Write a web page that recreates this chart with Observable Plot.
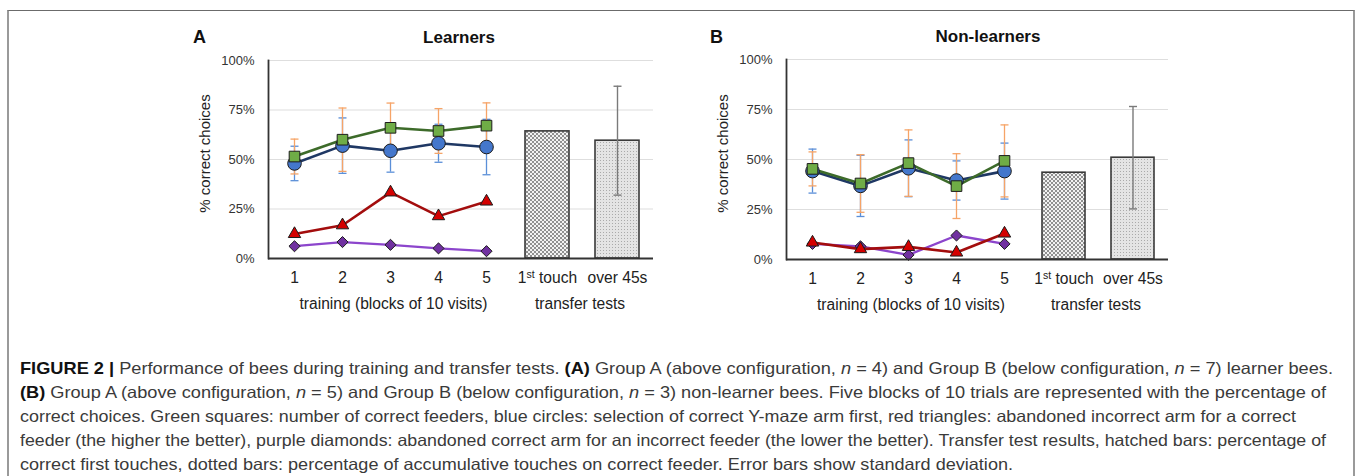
<!DOCTYPE html>
<html><head><meta charset="utf-8">
<script src="https://cdn.jsdelivr.net/npm/d3@7"></script>
<script src="https://cdn.jsdelivr.net/npm/@observablehq/plot@0.6"></script>
<style>
html,body{margin:0;padding:0;background:#fff;}
#fig{position:relative;width:1357px;height:476px;overflow:hidden;font-family:"Liberation Sans",Arial,sans-serif;color:#222;}
#frame{position:absolute;left:7px;top:10px;width:1344px;height:520px;border-top:1.5px solid #6b6b6b;border-left:2px solid #9a9a9a;border-right:2px solid #9a9a9a;}
.plabel{position:absolute;font-weight:bold;font-size:18px;line-height:1;color:#111;}
.ptitle{position:absolute;font-weight:bold;font-size:17px;line-height:1;white-space:nowrap;transform:translateX(-50%);color:#111;}
.cap{position:absolute;left:20px;white-space:nowrap;font-size:16.5px;line-height:1;color:#3a3a3a;transform-origin:0 50%;}
.cap b{color:#111;}
.plot{position:absolute;}
</style></head><body>
<div id="fig">
  <svg width="0" height="0" style="position:absolute">
    <defs>
      <pattern id="checker" width="4" height="4" patternUnits="userSpaceOnUse">
        <rect width="4" height="4" fill="#f2f2f2"/>
        <rect x="0" y="0" width="2" height="2" fill="#909090"/>
        <rect x="2" y="2" width="2" height="2" fill="#909090"/>
      </pattern>
      <pattern id="dots" width="3" height="3" patternUnits="userSpaceOnUse">
        <rect width="3" height="3" fill="#e4e4e4"/>
        <rect x="1" y="1" width="1" height="1" fill="#aaaaaa"/>
      </pattern>
    </defs>
  </svg>
  <div id="frame"></div>
  <div class="plabel" style="left:193px;top:28px;">A</div>
  <div class="ptitle" style="left:459px;top:29px;">Learners</div>
  <div class="plabel" style="left:710px;top:28px;">B</div>
  <div class="ptitle" style="left:988px;top:28px;">Non-learners</div>
</div>
<script>
// ---------- data ----------
const blocks = [1, 2, 3, 4, 5];
const yTicks = [0, 25, 50, 75, 100];
const gridTicks = [25, 50, 75, 100];
const tests = ["1st touch", "over 45s"];

// Panel A – Learners
const A_green = [51.5, 60, 66, 64.4, 67.1];      // correct feeders (%)
const A_greenSD = [8.8, 16, 12.5, 11.3, 11.5];
const A_blue = [48, 57, 54.4, 58.2, 56.3];       // correct Y-maze arm first
const A_blueSD = [8.7, 14, 10.8, 9.6, 14];
const A_red = [12.4, 16.8, 33.4, 21.4, 28.8];    // abandoned incorrect arm
const A_purple = [6.2, 8.3, 6.9, 5.1, 3.7];      // abandoned correct arm
const A_bars = [64.2, 59.5];
const A_barsSD = [null, 27.5];

// Panel B – Non-learners
const B_green = [45.3, 38, 48.2, 36.7, 49.3];
const B_greenSD = [8.5, 14.4, 16.6, 16.2, 18];
const B_blue = [44.2, 36.8, 45.6, 39.5, 44.2];
const B_blueSD = [11, 15.3, 14.2, 9.8, 14];
const B_red = [8.5, 5.2, 6.3, 3.5, 13];
const B_purple = [7.8, 6.6, 2.3, 12, 7.8];
const B_bars = [43.4, 50.9];
const B_barsSD = [null, 25.6];

const captionLines = [
  '<b>FIGURE 2 |</b> Performance of bees during training and transfer tests. <b>(A)</b> Group A (above configuration, <i>n</i> = 4) and Group B (below configuration, <i>n</i> = 7) learner bees.',
  '<b>(B)</b> Group A (above configuration, <i>n</i> = 5) and Group B (below configuration, <i>n</i> = 3) non-learner bees. Five blocks of 10 trials are represented with the percentage of',
  'correct choices. Green squares: number of correct feeders, blue circles: selection of correct Y-maze arm first, red triangles: abandoned incorrect arm for a correct',
  'feeder (the higher the better), purple diamonds: abandoned correct arm for an incorrect feeder (the lower the better). Transfer test results, hatched bars: percentage of',
  'correct first touches, dotted bars: percentage of accumulative touches on correct feeder. Error bars show standard deviation.'
];

// ---------- styles ----------
const C = {
  greenLine: "#3d6b2a", greenFill: "#6fac46",
  blueLine: "#1f3864", blueFill: "#4477cc",
  redLine: "#a30d0d", redFill: "#d40000",
  purpleLine: "#8c45cc", purpleFill: "#7030a0",
  orangeErr: "#f6a467", blueErr: "#5b8fd8",
  grid: "#dedede", axis: "#333", markerStroke: "#1c1c1c"
};
const patternFor = {"1st touch": "url(#checker)", "over 45s": "url(#dots)"};
const capSymbol = {draw(ctx, size) { const w = Math.sqrt(size / Math.PI); ctx.moveTo(-w, 0); ctx.lineTo(w, 0); }};
const fontFamily = '"Liberation Sans", Arial, sans-serif';
const FS = 15.6;

const rows = (vals, sds) => blocks.map((b, i) => ({block: b, v: vals[i], sd: sds ? sds[i] : null}));

function trainingPlot(P, width, height, plotH) {
  const g = rows(P.green, P.greenSD), b = rows(P.blue, P.blueSD), r = rows(P.red), p = rows(P.purple);
  const err = (data, color) => [
    Plot.ruleX(data, {x: "block", y1: d => d.v - d.sd, y2: d => d.v + d.sd, stroke: color, strokeWidth: 1.3}),
    Plot.dot(data, {x: "block", y: d => d.v + d.sd, symbol: capSymbol, r: 4, stroke: color, strokeWidth: 1.3, fill: "none"}),
    Plot.dot(data, {x: "block", y: d => d.v - d.sd, symbol: capSymbol, r: 4, stroke: color, strokeWidth: 1.3, fill: "none"})
  ];
  return Plot.plot({
    width, height,
    marginLeft: 77, marginRight: 0, marginTop: 15, marginBottom: height - 15 - plotH,
    style: {fontFamily, fontSize: "13px", color: "#222", background: "transparent", overflow: "visible"},
    x: {type: "point", domain: blocks, padding: 0.5, label: null},
    y: {domain: [0, 100], label: null},
    marks: [
      Plot.ruleY(gridTicks, {stroke: C.grid, strokeWidth: 1.2}),
      Plot.axisY({ticks: yTicks, tickFormat: d => d + "%", tickSize: 0, tickPadding: 14, fontSize: 13, fill: "#333", label: null}),
      Plot.axisX({tickSize: 0, tickPadding: 13, fontSize: FS, fill: "#222", label: null}),
      Plot.text(["% correct choices"], {text: d => d, frameAnchor: "left", textAnchor: "middle", lineAnchor: "middle", rotate: -90, dx: -63, dy: -6, fontSize: 15, fill: "#222"}),
      Plot.text(["training (blocks of 10 visits)"], {text: d => d, frameAnchor: "bottom", lineAnchor: "middle", dy: 45, dx: 3, fontSize: FS, fill: "#222"}),
      ...err(b, C.blueErr),
      ...err(g, C.orangeErr),
      Plot.line(p, {x: "block", y: "v", stroke: C.purpleLine, strokeWidth: 2.3}),
      Plot.line(r, {x: "block", y: "v", stroke: C.redLine, strokeWidth: 2.6}),
      Plot.line(b, {x: "block", y: "v", stroke: C.blueLine, strokeWidth: 2.6}),
      Plot.line(g, {x: "block", y: "v", stroke: C.greenLine, strokeWidth: 2.6}),
      Plot.dot(p, {x: "block", y: "v", symbol: "diamond2", r: 5, fill: C.purpleFill, stroke: C.markerStroke, strokeWidth: 1}),
      Plot.dot(r, {x: "block", y: "v", symbol: "triangle", r: 4.6, fill: C.redFill, stroke: C.markerStroke, strokeWidth: 1}),
      Plot.dot(b, {x: "block", y: "v", symbol: "circle", r: 6.8, fill: C.blueFill, stroke: C.markerStroke, strokeWidth: 1}),
      Plot.dot(g, {x: "block", y: "v", symbol: "square", r: 6, fill: C.greenFill, stroke: C.markerStroke, strokeWidth: 1}),
      Plot.ruleY([0], {stroke: C.axis, strokeWidth: 1.8}),
      Plot.frame({anchor: "left", stroke: C.axis, strokeWidth: 1.8})
    ]
  });
}

function barPlot(P, width, height, plotH) {
  const data = tests.map((t, i) => ({test: t, v: P.bars[i], sd: P.barsSD[i]}));
  const errData = data.filter(d => d.sd != null);
  const chart = Plot.plot({
    width, height,
    marginLeft: 0, marginRight: 0, marginTop: 15, marginBottom: height - 15 - plotH,
    style: {fontFamily, fontSize: FS + "px", color: "#222", background: "transparent", overflow: "visible"},
    x: {type: "band", domain: tests, paddingInner: 0.37, paddingOuter: 0.18, label: null},
    y: {domain: [0, 100], label: null, axis: null},
    color: {type: "identity"},
    marks: [
      Plot.ruleY(gridTicks, {stroke: C.grid, strokeWidth: 1.2}),
      Plot.axisX({tickSize: 0, tickPadding: 13, fontSize: FS, fill: "#222", label: null}),
      Plot.text(["transfer tests"], {text: d => d, frameAnchor: "bottom", lineAnchor: "middle", dy: 45, dx: -3, fontSize: FS, fill: "#222"}),
      Plot.barY(data, {x: "test", y: "v", fill: d => patternFor[d.test], stroke: "#3a3a3a", strokeWidth: 1.6}),
      Plot.ruleX(errData, {x: "test", y1: d => d.v - d.sd, y2: d => d.v + d.sd, stroke: "#7a7a7a", strokeWidth: 1.4}),
      Plot.dot(errData, {x: "test", y: d => d.v + d.sd, symbol: capSymbol, r: 4, stroke: "#7a7a7a", strokeWidth: 1.4, fill: "none"}),
      Plot.dot(errData, {x: "test", y: d => d.v - d.sd, symbol: capSymbol, r: 4, stroke: "#7a7a7a", strokeWidth: 1.4, fill: "none"}),
      Plot.ruleY([0], {stroke: C.axis, strokeWidth: 1.8})
    ]
  });
  // superscript "st" in "1st touch"
  chart.querySelectorAll("text").forEach(t => {
    if (t.textContent === "1st touch") {
      t.textContent = "";
      const ns = "http://www.w3.org/2000/svg";
      const a = document.createElementNS(ns, "tspan"); a.textContent = "1";
      const s = document.createElementNS(ns, "tspan"); s.textContent = "st"; s.setAttribute("font-size", "10.5"); s.setAttribute("dy", "-5");
      const c = document.createElementNS(ns, "tspan"); c.textContent = " touch"; c.setAttribute("dy", "5");
      t.append(a, s, c);
    }
  });
  return chart;
}

function place(el, left, top) {
  el.classList.add("plot");
  el.style.left = left + "px"; el.style.top = top + "px";
  document.getElementById("fig").appendChild(el);
}

const PA = {green: A_green, greenSD: A_greenSD, blue: A_blue, blueSD: A_blueSD, red: A_red, purple: A_purple, bars: A_bars, barsSD: A_barsSD};
const PB = {green: B_green, greenSD: B_greenSD, blue: B_blue, blueSD: B_blueSD, red: B_red, purple: B_purple, bars: B_bars, barsSD: B_barsSD};

place(trainingPlot(PA, 321, 273, 198), 191, 45);
place(barPlot(PA, 141, 273, 198), 512, 45);
place(trainingPlot(PB, 320, 275, 200), 709, 44);
place(barPlot(PB, 139, 275, 200), 1029, 44);

// ---------- caption ----------
const capTops = [360, 384, 408, 432, 456];
const capWidths = [1313, 1306, 1276, 1306, 993];
captionLines.forEach((html, i) => {
  const d = document.createElement("div");
  d.className = "cap";
  d.style.top = capTops[i] + "px";
  d.innerHTML = html;
  document.getElementById("fig").appendChild(d);
  const w = d.getBoundingClientRect().width;
  d.style.transform = `scaleX(${capWidths[i] / w})`;
});
</script>
</body></html>
